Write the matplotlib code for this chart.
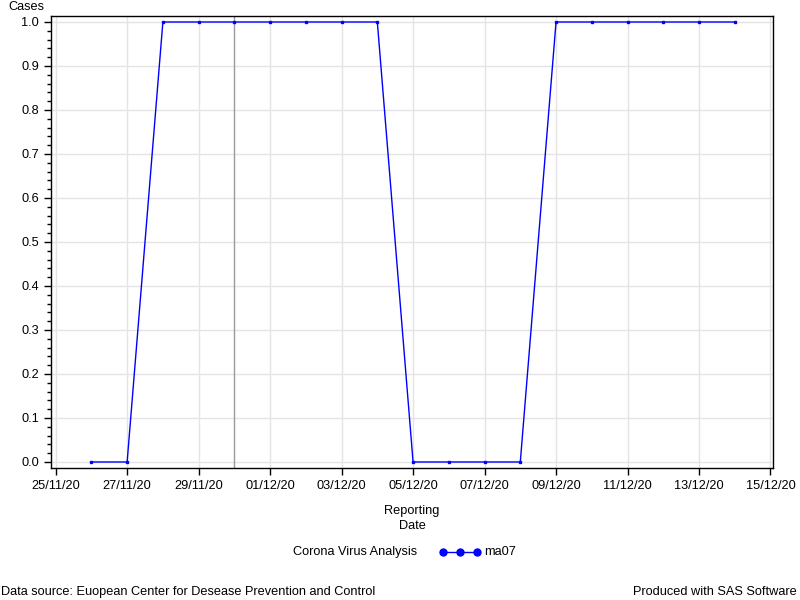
import matplotlib
matplotlib.use("Agg")
import matplotlib.pyplot as plt
import matplotlib.dates as mdates
from matplotlib.lines import Line2D
import numpy as np
import pandas as pd

plt.rcParams['font.family'] = ['Liberation Sans', 'DejaVu Sans']

dates = pd.date_range("2020-11-26", "2020-12-14", freq="D")
ma07 = [0, 0, 1, 1, 1, 1, 1, 1, 1, 0, 0, 0, 0, 1, 1, 1, 1, 1, 1]
ref_date = pd.Timestamp("2020-11-30")
yticks = [0.0, 0.1, 0.2, 0.3, 0.4, 0.5, 0.6, 0.7, 0.8, 0.9, 1.0]
xticks = pd.to_datetime(["2020-11-25", "2020-11-27", "2020-11-29", "2020-12-01", "2020-12-03",
                         "2020-12-05", "2020-12-07", "2020-12-09", "2020-12-11", "2020-12-13", "2020-12-15"])

FS = 9.2
fig = plt.figure(figsize=(8, 6), dpi=100)
ax = fig.add_axes([51/800, 1-468/600, (773-51)/800, (468-16)/600])

ax.plot(dates, ma07, color='#0000ff', lw=1, marker='s', ms=1.8, zorder=3)
ax.axvline(ref_date, color='#9a9a9a', lw=1, zorder=2)

x0 = pd.Timestamp("2020-11-25") - pd.Timedelta(days=0.13)
x1 = pd.Timestamp("2020-12-15") + pd.Timedelta(days=0.07)
ax.set_xlim(x0, x1)
ax.set_ylim(-6/440, 1 + 6/440)

ax.set_xticks(xticks)
ax.xaxis.set_major_formatter(mdates.DateFormatter("%d/%m/%y"))
ax.set_yticks(yticks)
ax.set_yticklabels([f"{v:.1f}" for v in yticks])
ax.set_yticks(np.arange(0, 1.001, 0.02), minor=True)

ax.grid(True, which='major', color='#e4e4e4', lw=1, zorder=0)
ax.tick_params(axis='both', which='major', direction='out', length=5, width=1, labelsize=FS, colors='black')
ax.tick_params(axis='y', which='minor', direction='out', length=3, width=1)
for s in ax.spines.values():
    s.set_linewidth(1)
    s.set_color('black')

fig.text(8/800, 1-7/600, "Cases", fontsize=FS, ha='left', va='center')
fig.text(412/800, 1-511/600, "Reporting", fontsize=FS, ha='center', va='center')
fig.text(412/800, 1-526/600, "Date", fontsize=FS, ha='center', va='center')

fig.text(417/800, 1-552/600, "Corona Virus Analysis", fontsize=FS, ha='right', va='center')
lx = [443/800, 460/800, 477/800]
ly = [1-552/600] * 3
fig.add_artist(Line2D(lx, ly, color='#0000ff', lw=1, marker='o', ms=5, transform=fig.transFigure))
fig.text(484/800, 1-552/600, "ma07", fontsize=FS, ha='left', va='center')

fig.text(1/800, 1-592/600, "Data source: Euopean Center for Desease Prevention and Control", fontsize=FS, ha='left', va='center')
fig.text(797/800, 1-592/600, "Produced with SAS Software", fontsize=FS, ha='right', va='center')

fig.savefig("out.png", dpi=100)
